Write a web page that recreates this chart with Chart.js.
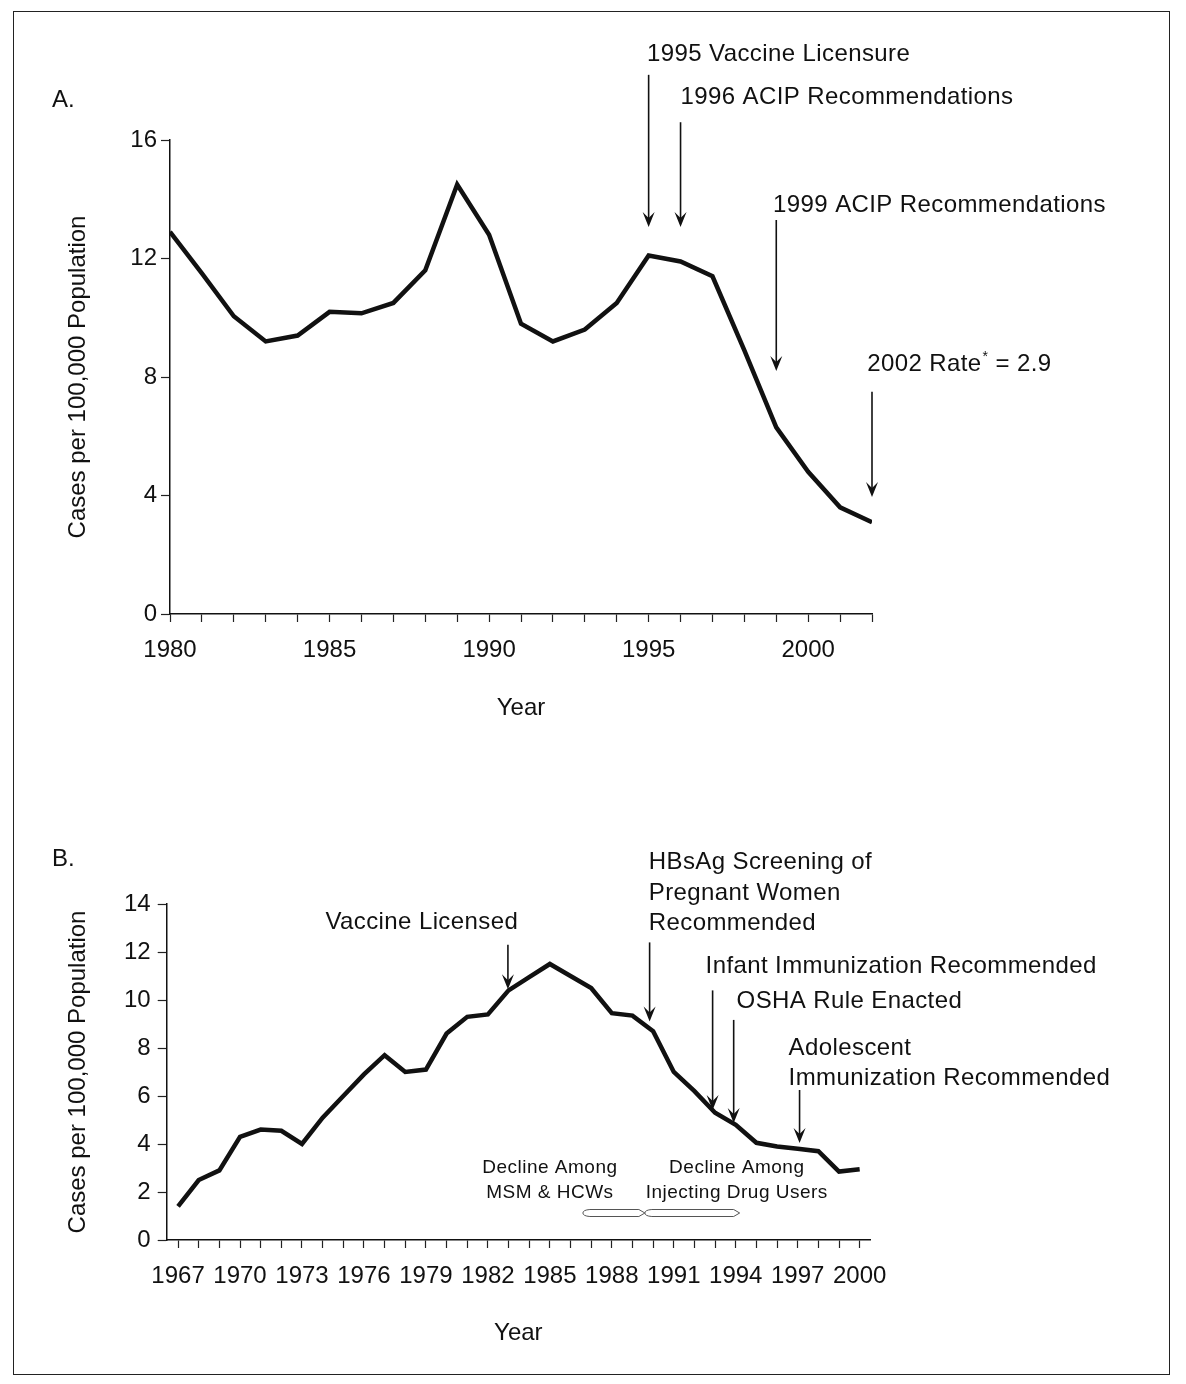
<!DOCTYPE html>
<html>
<head>
<meta charset="utf-8">
<script src="https://cdn.jsdelivr.net/npm/chart.js@4.4.0/dist/chart.umd.min.js"></script>
<style>
  html, body { margin: 0; padding: 0; background: #fff; }
  #page { position: relative; width: 1186px; height: 1384px; overflow: hidden; font-family: "Liberation Sans", Arial, Helvetica, sans-serif; color: #111; }
  #frame { position: absolute; left: 13px; top: 11px; width: 1157px; height: 1364px; border: 1.5px solid #222; box-sizing: border-box; }
  .wrap { position: absolute; left: 0; width: 1186px; }
  #wrapA { top: 0; height: 760px; }
  #wrapB { top: 760px; height: 624px; }
  .panel { position: absolute; left: 52px; font-size: 24px; line-height: 28px; }
</style>
</head>
<body>
<div id="page">
  <div id="frame"></div>
  <div class="wrap" id="wrapA"><canvas id="chartA" width="1186" height="760"></canvas></div>
  <div class="wrap" id="wrapB"><canvas id="chartB" width="1186" height="624"></canvas></div>
  <div class="panel" style="top:85px">A.</div>
  <div class="panel" style="top:844px">B.</div>
</div>
<script>
// Panel A - rate per 100,000, 1980-2002
const yearsA = [1980, 1981, 1982, 1983, 1984, 1985, 1986, 1987, 1988, 1989, 1990, 1991,
                1992, 1993, 1994, 1995, 1996, 1997, 1998, 1999, 2000, 2001, 2002];
const ratesA = [12.9, 11.5, 10.05, 9.2, 9.4, 10.2, 10.15, 10.5, 11.6, 14.5, 12.8, 9.8,
                9.2, 9.6, 10.5, 12.1, 11.9, 11.4, 8.9, 6.3, 4.8, 3.6, 3.1];
const yTicksA = [0, 4, 8, 12, 16];

// Panel B - rate per 100,000, 1967-2000
const yearsB = [1967, 1968, 1969, 1970, 1971, 1972, 1973, 1974, 1975, 1976, 1977, 1978,
                1979, 1980, 1981, 1982, 1983, 1984, 1985, 1986, 1987, 1988, 1989, 1990,
                1991, 1992, 1993, 1994, 1995, 1996, 1997, 1998, 1999, 2000];
const ratesB = [1.4, 2.5, 2.9, 4.3, 4.6, 4.55, 4.0, 5.1, 6.0, 6.9, 7.7, 7.0,
                7.1, 8.6, 9.3, 9.4, 10.4, 10.95, 11.5, 11.0, 10.5, 9.45, 9.35, 8.7,
                7.0, 6.2, 5.3, 4.8, 4.05, 3.9, 3.8, 3.7, 2.85, 2.95];
const yTicksB = [0, 2, 4, 6, 8, 10, 12, 14];

// annotations (data coordinates)
const notesA = [
  { text: '1995 Vaccine Licensure', x: 1994.95, y: 18.9 },
  { text: '1996 ACIP Recommendations', x: 1996.0, y: 17.45 },
  { text: '1999 ACIP Recommendations', x: 1998.9, y: 13.8 },
  { text: '2002 Rate', sup: '*', rest: ' = 2.9', x: 2001.85, y: 8.44 }
];
const arrowsA = [
  { x: 1995, from: 18.2, to: 13.06 },
  { x: 1996, from: 16.6, to: 13.06 },
  { x: 1999, from: 13.3, to: 8.2 },
  { x: 2002, from: 7.5, to: 3.95 }
];
const notesB = [
  { text: 'Vaccine Licensed', x: 1978.8, y: 13.25, align: 'center' },
  { text: 'HBsAg Screening of', x: 1989.79, y: 15.75 },
  { text: 'Pregnant Women', x: 1989.79, y: 14.46 },
  { text: 'Recommended', x: 1989.79, y: 13.2 },
  { text: 'Infant Immunization Recommended', x: 1992.54, y: 11.4 },
  { text: 'OSHA Rule Enacted', x: 1994.04, y: 9.96 },
  { text: 'Adolescent', x: 1996.56, y: 8.0 },
  { text: 'Immunization Recommended', x: 1996.56, y: 6.75 },
  { text: 'Decline Among', x: 1985.0, y: 3.0, align: 'center', small: true },
  { text: 'MSM & HCWs', x: 1985.0, y: 1.96, align: 'center', small: true },
  { text: 'Decline Among', x: 1994.05, y: 3.0, align: 'center', small: true },
  { text: 'Injecting Drug Users', x: 1994.05, y: 1.96, align: 'center', small: true }
];
const arrowsB = [
  { x: 1982.97, from: 12.3, to: 10.45 },
  { x: 1989.83, from: 12.4, to: 9.1 },
  { x: 1992.88, from: 10.4, to: 5.42 },
  { x: 1993.9, from: 9.17, to: 4.88 },
  { x: 1997.09, from: 6.25, to: 4.04 }
];
const bracesB = [
  { from: 1986.6, to: 1989.6, y: 1.125 },
  { from: 1989.6, to: 1994.19, y: 1.125 }
];

const FONT = '"Liberation Sans", Arial, Helvetica, sans-serif';
const INK = '#111';
Chart.defaults.font.family = FONT;
Chart.defaults.color = INK;

function drawArrow(ctx, x, y1, y2) {
  ctx.strokeStyle = INK;
  ctx.fillStyle = INK;
  ctx.lineWidth = 1.6;
  ctx.beginPath(); ctx.moveTo(x, y1); ctx.lineTo(x, y2 - 4); ctx.stroke();
  ctx.beginPath();
  ctx.moveTo(x, y2);
  ctx.lineTo(x - 6, y2 - 15);
  ctx.lineTo(x, y2 - 9);
  ctx.lineTo(x + 6, y2 - 15);
  ctx.closePath();
  ctx.fill();
}

function drawBrace(ctx, x1, x2, y) {
  ctx.strokeStyle = '#555';
  ctx.lineWidth = 1;
  ctx.beginPath();
  ctx.moveTo(x1 + 7, y - 3.5);
  ctx.lineTo(x2 - 6, y - 3.5);
  ctx.lineTo(x2, y);
  ctx.lineTo(x2 - 6, y + 3.5);
  ctx.lineTo(x1 + 7, y + 3.5);
  ctx.quadraticCurveTo(x1, y + 3, x1, y);
  ctx.quadraticCurveTo(x1, y - 3, x1 + 7, y - 3.5);
  ctx.stroke();
}

function notesPlugin(notes, arrows, braces) {
  return {
    id: 'notes',
    afterDraw(chart) {
      const { ctx, scales: { x, y } } = chart;
      ctx.save();
      arrows.forEach(a => drawArrow(ctx, x.getPixelForValue(a.x), y.getPixelForValue(a.from), y.getPixelForValue(a.to)));
      braces.forEach(b => drawBrace(ctx, x.getPixelForValue(b.from), x.getPixelForValue(b.to), y.getPixelForValue(b.y)));
      ctx.fillStyle = INK;
      ctx.textBaseline = 'middle';
      notes.forEach(n => {
        const px = x.getPixelForValue(n.x);
        const py = y.getPixelForValue(n.y);
        ctx.font = (n.small ? '19px ' : '24px ') + FONT;
        ctx.letterSpacing = n.small ? '0.5px' : '0.4px';
        ctx.textAlign = n.align || 'left';
        ctx.fillText(n.text, px, py);
        if (n.sup) {
          let cx = px + ctx.measureText(n.text).width;
          ctx.font = '14px ' + FONT;
          ctx.fillText(n.sup, cx + 1, py - 7);
          cx += ctx.measureText(n.sup).width + 1;
          ctx.font = '24px ' + FONT;
          ctx.fillText(n.rest, cx, py);
        }
      });
      ctx.restore();
    }
  };
}

function makeChart(id, years, rates, o) {
  const points = years.map((yr, i) => ({ x: yr, y: rates[i] }));
  return new Chart(document.getElementById(id), {
    type: 'line',
    data: {
      datasets: [{
        data: points,
        borderColor: INK,
        borderWidth: 4.5,
        pointRadius: 0,
        tension: 0,
        fill: false
      }]
    },
    options: {
      responsive: false,
      animation: false,
      events: [],
      layout: { padding: o.padding },
      plugins: { legend: { display: false }, tooltip: { enabled: false } },
      scales: {
        x: {
          type: 'linear',
          min: o.xMin,
          max: o.xMax,
          afterBuildTicks: s => { s.ticks = years.map(v => ({ value: v })); },
          afterFit: s => { s.height = o.xHeight; },
          ticks: {
            autoSkip: false,
            maxRotation: 0,
            padding: 13.6,
            color: INK,
            font: { size: 24 },
            callback: v => (o.xLabel(v) ? String(v) : '')
          },
          grid: { drawOnChartArea: false, drawTicks: true, tickLength: 8, tickWidth: 1.2, tickColor: '#222' },
          border: { display: true, color: INK, width: 1.5 },
          title: { display: true, text: 'Year', color: INK, padding: 0, font: { size: 24 } }
        },
        y: {
          min: 0,
          max: o.yTicks[o.yTicks.length - 1],
          afterBuildTicks: s => { s.ticks = o.yTicks.map(v => ({ value: v })); },
          afterFit: s => { s.width = o.yWidth; },
          ticks: { padding: o.yPad, color: INK, font: { size: 24 } },
          grid: { drawOnChartArea: false, drawTicks: true, tickLength: 9, tickWidth: 1.2, tickColor: '#222' },
          border: { display: true, color: INK, width: 1.5 },
          title: { display: true, text: 'Cases per 100,000 Population', color: INK, padding: 0, font: { size: 24 } }
        }
      }
    },
    plugins: [notesPlugin(o.notes, o.arrows, o.braces)]
  });
}

makeChart('chartA', yearsA, ratesA, {
  padding: { left: 63.6, top: 140, right: 314, bottom: 37.6 },
  xMin: 1980, xMax: 2002, xHeight: 108.4, yWidth: 106.4, yPad: 4,
  yTicks: yTicksA,
  xLabel: v => v % 5 === 0,
  notes: notesA, arrows: arrowsA, braces: []
});

makeChart('chartB', yearsB, ratesB, {
  padding: { left: 63.6, top: 144, right: 316, bottom: 36.6 },
  xMin: 1966.45, xMax: 2000.5, xHeight: 107.4, yWidth: 103.1, yPad: 7,
  yTicks: yTicksB,
  xLabel: v => (v - 1967) % 3 === 0,
  notes: notesB, arrows: arrowsB, braces: bracesB
});
</script>
</body>
</html>
